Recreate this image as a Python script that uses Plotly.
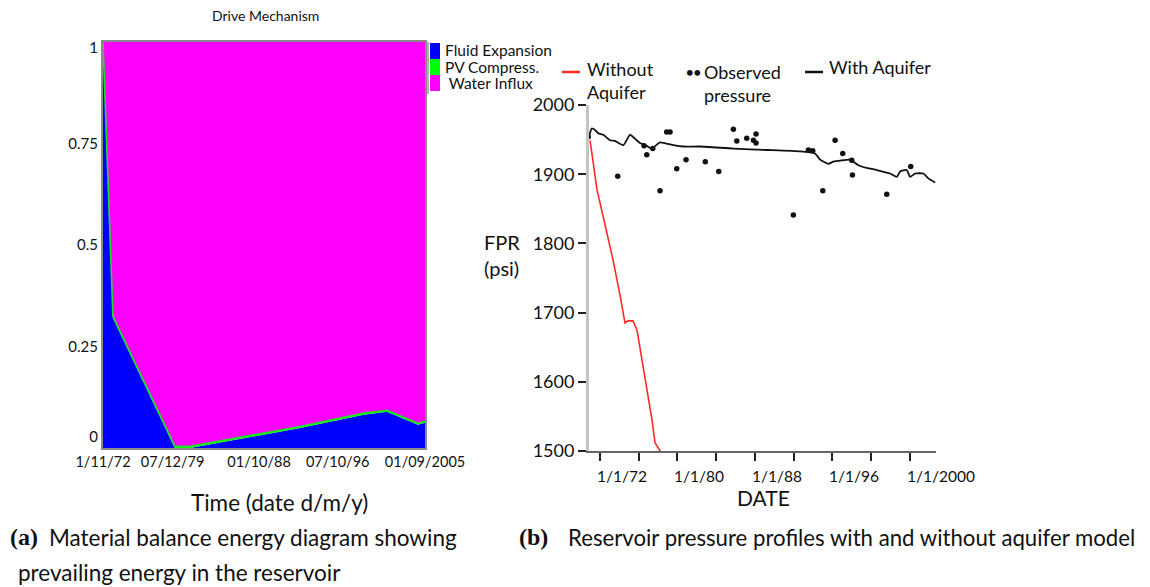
import plotly.graph_objects as go

# ---------------- Panel (a): drive mechanism (fractions) ----------------
a_dates = ["1972-11-01", "1973-11-06", "1980-03-01", "1981-09-12", "1992-12-01",
           "1999-06-01", "2001-10-15", "2004-02-15", "2004-12-15", "2005-09-01"]
fluid_expansion = [0.995, 0.320, 0.000, 0.000, 0.049, 0.082, 0.089, 0.064, 0.057, 0.062]
pv_compress = [0.003, 0.004, 0.004, 0.004, 0.004, 0.004, 0.004, 0.004, 0.004, 0.004]
water_influx = [0.002, 0.676, 0.996, 0.996, 0.947, 0.914, 0.907, 0.932, 0.939, 0.934]
a_tickvals = ["1972-11-01", "1979-12-07", "1988-10-01", "1996-10-07", "2005-09-01"]
a_ticktext = ["1/11/72", "07/12/79", "01/10/88", "07/10/96", "01/09/2005"]
# label anchors for the fraction axis (end labels sit just inside the frame, as drawn)
a_ytickvals = [0.027, 0.25, 0.5, 0.75, 0.985]
a_yticktext = ["0", "0.25", "0.5", "0.75", "1"]
a_legend = ["Fluid Expansion", "PV Compress.", " Water Influx"]

# ---------------- Panel (b): reservoir pressure ----------------
without_dates = ["1970-12-20", "1971-09-10", "1972-07-08", "1973-05-05", "1974-01-26",
                 "1974-07-30", "1974-11-20", "1975-05-30", "1975-10-27", "1976-05-05",
                 "1976-12-16", "1977-05-15", "1977-09-05", "1977-12-28", "1978-04-20"]
without_fpr = [1949, 1877, 1827, 1776, 1725, 1685, 1688, 1688, 1675, 1632,
               1584, 1545, 1512, 1504, 1498]

with_dates = ["1970-11-10", "1971-02-20", "1971-06-25", "1971-10-27", "1972-05-04",
              "1973-01-12", "1973-07-19", "1974-05-30", "1975-02-06", "1975-10-16",
              "1976-02-17", "1976-10-30", "1977-05-05", "1978-03-15", "1979-07-30",
              "1980-08-10", "1982-05-05", "1985-10-12", "1989-03-25", "1992-09-01",
              "1994-03-21", "1994-09-27", "1995-08-07", "1996-02-10", "1997-11-03",
              "1998-09-13", "1999-07-27", "2000-08-07", "2001-12-20", "2002-09-02",
              "2003-01-05", "2003-09-13", "2004-01-15", "2004-07-23", "2005-06-03",
              "2005-12-06", "2006-08-18"]
with_fpr = [1954, 1966, 1964, 1959, 1957, 1949, 1948, 1942, 1957, 1949,
            1945, 1941, 1937, 1946, 1942, 1940, 1940, 1937, 1935, 1933,
            1930, 1921, 1915, 1918, 1921, 1913, 1909, 1906, 1901, 1896,
            1904, 1906, 1896, 1901, 1901, 1894, 1888]

obs_dates = ["1970-10-15", "1973-10-30", "1976-07-19", "1976-10-30", "1977-06-13",
             "1978-03-15", "1978-11-20", "1979-03-28", "1979-12-05", "1980-11-20",
             "1982-11-17", "1984-04-08", "1985-10-12", "1986-02-17", "1987-02-28",
             "1987-11-06", "1988-02-14", "1988-02-14", "1991-12-24", "1993-07-13",
             "1993-12-24", "1995-01-08", "1996-04-16", "1997-01-30", "1998-01-05",
             "1998-01-30", "2001-08-18", "2004-02-10"]
obs_fpr = [1954, 1897, 1941, 1928, 1937, 1876, 1961, 1961, 1908, 1921,
           1918, 1904, 1965, 1948, 1952, 1949, 1958, 1945, 1841, 1935,
           1934, 1876, 1949, 1930, 1920, 1899, 1871, 1911]

b_tickvals = ["1972-01-01", "1976-01-01", "1980-01-01", "1984-01-01", "1988-01-01",
              "1992-01-01", "1996-01-01", "2000-01-01", "2004-01-01"]
b_ticktext = ["1/1/72", "", "1/1/80", "", "1/1/88", "", "1/1/96", "", "1/1/2000"]
b_ytickvals = [1500, 1600, 1700, 1800, 1900, 2000]

OFF = 8  # page body margin in the browser
W, H = 1150 - OFF, 587 - OFF
FONT = "Lato, 'Open Sans', sans-serif"


def px(x):
    return (x - OFF) / W


def py(y):
    return 1 - (y - OFF) / H


fig = go.Figure()

# stacked area (panel a)
fig.add_trace(go.Scatter(x=a_dates, y=fluid_expansion, stackgroup="a", mode="lines",
                         line=dict(width=0, color="#0000ff"), fillcolor="#0000ff",
                         xaxis="x", yaxis="y", showlegend=False))
fig.add_trace(go.Scatter(x=a_dates, y=pv_compress, stackgroup="a", mode="lines",
                         line=dict(width=1.6, color="#22dd22"), fillcolor="#00ff00",
                         xaxis="x", yaxis="y", showlegend=False))
fig.add_trace(go.Scatter(x=a_dates, y=water_influx, stackgroup="a", mode="lines",
                         line=dict(width=0, color="#ff00ff"), fillcolor="#ff00ff",
                         xaxis="x", yaxis="y", showlegend=False))

# pressure lines (panel b)
fig.add_trace(go.Scatter(x=without_dates, y=without_fpr, mode="lines",
                         line=dict(color="#ff2a2a", width=1.6),
                         xaxis="x2", yaxis="y2", showlegend=False))
fig.add_trace(go.Scatter(x=with_dates, y=with_fpr, mode="lines",
                         line=dict(color="#111111", width=1.8, shape="spline", smoothing=0.4),
                         xaxis="x2", yaxis="y2", showlegend=False))
fig.add_trace(go.Scatter(x=obs_dates, y=obs_fpr, mode="markers",
                         marker=dict(color="#111111", size=5.5, symbol="circle"),
                         xaxis="x2", yaxis="y2", showlegend=False))

fig.update_layout(
    width=W, height=H, autosize=False, showlegend=False,
    margin=dict(l=0, r=0, t=0, b=0, pad=0, autoexpand=False),
    paper_bgcolor="white", plot_bgcolor="white",
    font=dict(family=FONT, color="#111111"),
    xaxis=dict(domain=[px(103), px(425)], anchor="y", automargin=False,
               range=["1972-11-01", "2005-09-01"], type="date",
               tickvals=a_tickvals, ticktext=a_ticktext, tickfont=dict(size=14.5),
               showline=True, mirror=True, linecolor="#8a8a8a", linewidth=2,
               showgrid=False, zeroline=False, ticks=""),
    yaxis=dict(domain=[py(448), py(42)], anchor="x", range=[0, 1], automargin=False,
               tickvals=a_ytickvals, ticktext=a_yticktext, tickfont=dict(size=15),
               showline=True, mirror=True, linecolor="#8a8a8a", linewidth=2,
               showgrid=False, zeroline=False, ticks=""),
    xaxis2=dict(domain=[px(589), px(936)], anchor="y2", type="date", automargin=False,
                range=["1970-11-10", "2006-09-20"],
                tickvals=b_tickvals, showticklabels=False,
                ticks="outside", ticklen=8, tickwidth=2, tickcolor="#222222",
                showline=True, linecolor="#666666", linewidth=1.5,
                showgrid=False, zeroline=False),
    yaxis2=dict(domain=[py(451), py(105)], anchor="x2", range=[1500, 2000], automargin=False,
                tickvals=b_ytickvals, tickfont=dict(size=18),
                ticks="outside", ticklen=8, tickwidth=2, tickcolor="#222222",
                showline=True, linecolor="#c4c4c4", linewidth=3,
                showgrid=False, zeroline=False),
)

ann = []
# Panel a texts
ann.append(dict(text="Drive Mechanism", x=px(265), y=py(16), xref="paper", yref="paper",
                showarrow=False, font=dict(size=14), xanchor="center", yanchor="middle"))
ann.append(dict(text="Time (date d/m/y)", x=px(279), y=py(502), xref="paper", yref="paper",
                showarrow=False, font=dict(size=22.5), xanchor="center", yanchor="middle"))
leg_y = [50, 67, 83]
for t, yy in zip(a_legend, leg_y):
    ann.append(dict(text=t, x=px(443), y=py(yy), xref="paper", yref="paper",
                    showarrow=False, font=dict(size=15.5), xanchor="left", yanchor="middle"))

# Captions
ann.append(dict(text="<b>(a)</b>", x=px(8), y=py(537), xref="paper", yref="paper",
                showarrow=False, font=dict(size=24, family="'Liberation Serif', serif"),
                xanchor="left", yanchor="middle"))
ann.append(dict(text="Material balance energy diagram showing", x=px(47), y=py(537),
                xref="paper", yref="paper", showarrow=False, font=dict(size=22.5),
                xanchor="left", yanchor="middle"))
ann.append(dict(text="prevailing energy in the reservoir", x=px(16), y=py(572),
                xref="paper", yref="paper", showarrow=False, font=dict(size=22.5),
                xanchor="left", yanchor="middle"))
ann.append(dict(text="<b>(b)</b>", x=px(517), y=py(537), xref="paper", yref="paper",
                showarrow=False, font=dict(size=24, family="'Liberation Serif', serif"),
                xanchor="left", yanchor="middle"))
ann.append(dict(text="Reservoir pressure profiles with and without aquifer model", x=px(566),
                y=py(537), xref="paper", yref="paper", showarrow=False, font=dict(size=22.2),
                xanchor="left", yanchor="middle"))

# Panel b texts
ann.append(dict(text="FPR<br>(psi)", x=px(482), y=py(255), xref="paper", yref="paper",
                showarrow=False, font=dict(size=20), xanchor="left", yanchor="middle",
                align="left"))
ann.append(dict(text="DATE", x=px(763), y=py(497), xref="paper", yref="paper",
                showarrow=False, font=dict(size=21), xanchor="center", yanchor="middle"))
for tv, tt in zip(b_tickvals, b_ticktext):
    if tt:
        ann.append(dict(text=tt, x=tv, y=py(476), xref="x2", yref="paper", showarrow=False,
                        font=dict(size=15.5), xanchor="left", yanchor="middle", xshift=-5))
ann.append(dict(text="Without<br>Aquifer", x=px(585), y=py(80), xref="paper", yref="paper",
                showarrow=False, font=dict(size=18), xanchor="left", yanchor="middle",
                align="left"))
ann.append(dict(text="Observed<br>pressure", x=px(702), y=py(84), xref="paper", yref="paper",
                showarrow=False, font=dict(size=18), xanchor="left", yanchor="middle",
                align="left"))
ann.append(dict(text="<b>••</b>", x=px(693), y=py(72), xref="paper", yref="paper",
                showarrow=False, font=dict(size=13), xanchor="center", yanchor="middle"))
ann.append(dict(text="With Aquifer", x=px(827), y=py(67), xref="paper", yref="paper",
                showarrow=False, font=dict(size=18), xanchor="left", yanchor="middle"))
fig.update_layout(annotations=ann)

shapes = []
sw_cols = ["#0000ff", "#00ff00", "#ff00ff"]
sw_y = [(43, 59), (59, 75), (75, 91)]
for c, (y0, y1) in zip(sw_cols, sw_y):
    shapes.append(dict(type="rect", xref="paper", yref="paper", x0=px(430), x1=px(440),
                       y0=py(y1), y1=py(y0), fillcolor=c, line=dict(width=0)))
shapes.append(dict(type="line", xref="paper", yref="paper", x0=px(428), x1=px(428),
                   y0=py(94), y1=py(42), line=dict(color="#9a9a9a", width=1.5)))
shapes.append(dict(type="line", xref="paper", yref="paper", x0=px(562), x1=px(580),
                   y0=py(72), y1=py(72), line=dict(color="#ff2a2a", width=2.5)))
shapes.append(dict(type="line", xref="paper", yref="paper", x0=px(805), x1=px(823),
                   y0=py(72), y1=py(72), line=dict(color="#111111", width=2.5)))
fig.update_layout(shapes=shapes)

fig.write_html("out.html")
